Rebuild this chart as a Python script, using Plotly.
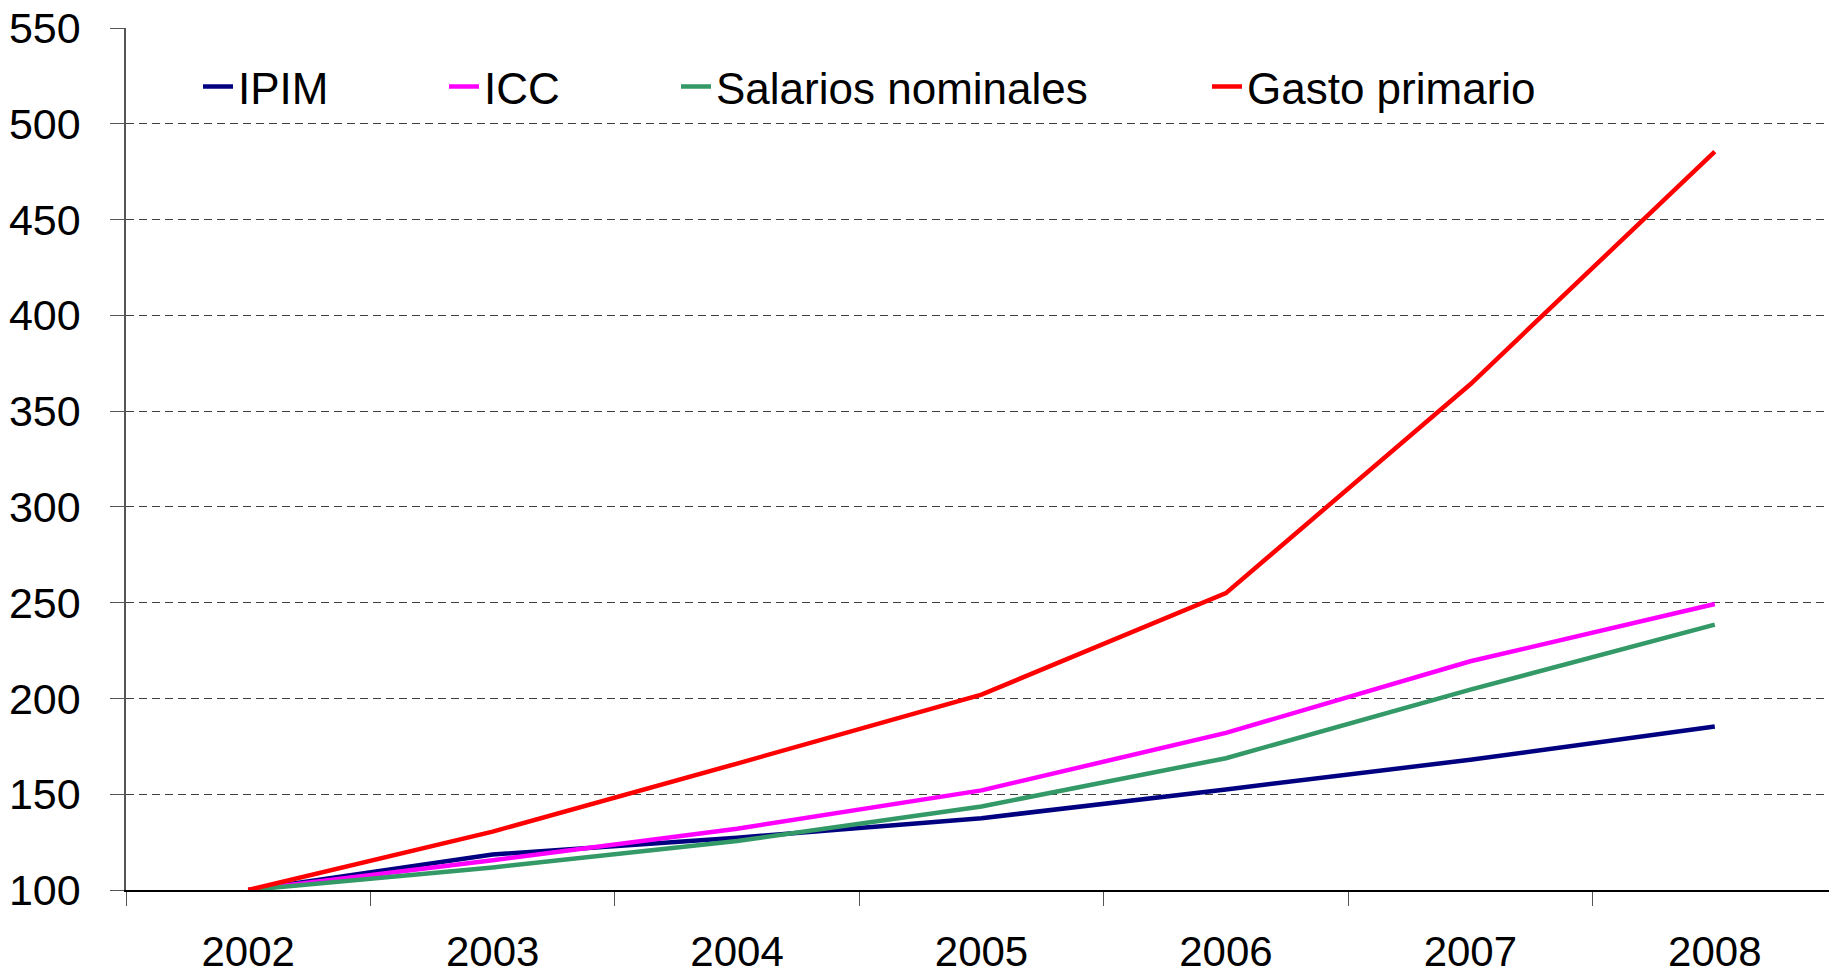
import plotly.graph_objects as go

years = ["2002", "2003", "2004", "2005", "2006", "2007", "2008"]
ipim = [100, 118.5, 127.3, 137.5, 152.5, 168, 185.4]
icc = [100, 115.5, 132, 152, 182, 219.4, 249.3]
salarios = [100, 111.8, 125.6, 143.6, 168.8, 204.6, 238.5]
gasto = [100, 130.5, 166, 202, 255, 364, 485.5]

series_names = ["IPIM", "ICC", "Salarios nominales", "Gasto primario"]
series_values = [ipim, icc, salarios, gasto]
series_colors = ["#000080", "#FF00FF", "#339966", "#FF0000"]
legend_ids = ["legend", "legend2", "legend3", "legend4"]
legend_text_px = [240, 486, 718, 1249]

OFF = 8  # default page body margin
W, H = 1829, 965
ml, mr, mt, mb = 118, 0, 20, 83
pw = W - ml - mr
ph = H - mt - mb

fig = go.Figure()
for name, vals, col, lg in zip(series_names, series_values, series_colors, legend_ids):
    fig.add_trace(go.Scatter(x=years, y=vals, mode="lines", name=name,
                             line=dict(color=col, width=4.5), legend=lg))

font = "Liberation Sans, Arial, sans-serif"
legend_common = dict(orientation="h", yanchor="middle", y=(H - mb - (87 - OFF)) / ph,
                     xanchor="left", bgcolor="rgba(0,0,0,0)", borderwidth=0,
                     font=dict(family=font, size=44, color="black"), itemwidth=30)
layout_legends = {}
for lg, tx in zip(legend_ids, legend_text_px):
    layout_legends[lg] = dict(legend_common, x=(tx - OFF - 42 - ml) / pw)

fig.update_layout(
    width=W, height=H,
    margin=dict(l=ml, r=mr, t=mt, b=mb, pad=0, autoexpand=False),
    paper_bgcolor="white", plot_bgcolor="white",
    showlegend=True,
    **layout_legends,
    xaxis=dict(type="category", tickson="boundaries", ticks="outside", ticklen=14,
               tickcolor="#555555", showgrid=False, showline=True, linecolor="black",
               linewidth=1.5, range=[-0.5, 6.5], zeroline=False, automargin=False,
               ticklabeloverflow="allow",
               tickfont=dict(family=font, size=42, color="black"), ticklabelstandoff=24),
    yaxis=dict(range=[100, 550], dtick=50, tick0=100, ticks="outside", ticklen=14,
               tickcolor="#555555", showline=True, linecolor="#555555", linewidth=1.5,
               showgrid=True, gridcolor="#404040", gridwidth=1, griddash="8px,5px",
               zeroline=False, automargin=False, ticklabeloverflow="allow",
               tickfont=dict(family=font, size=43, color="black"), ticklabelstandoff=21),
)

fig.write_html("out.html")
